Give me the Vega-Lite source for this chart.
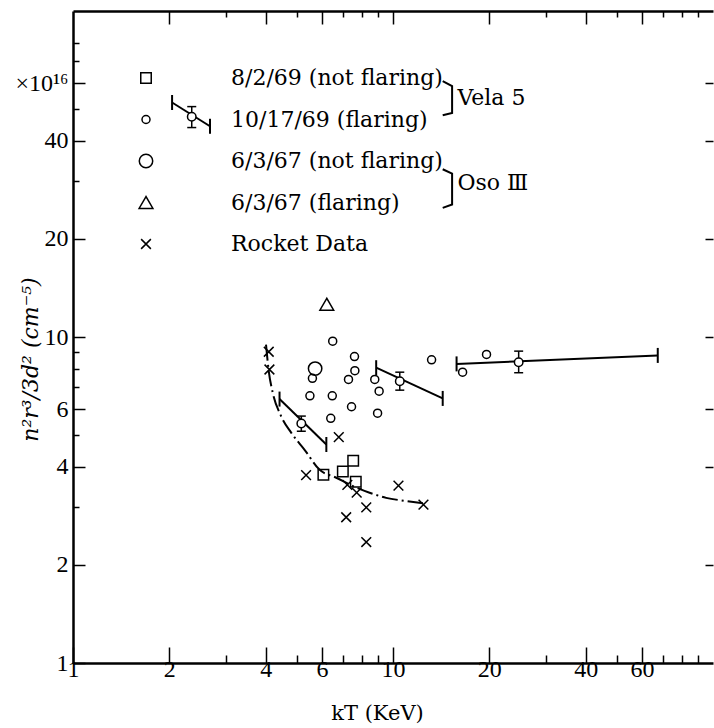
{
  "$schema": "https://vega.github.io/schema/vega-lite/v6.json",
  "width": 640,
  "height": 652,
  "autosize": {"type": "none"},
  "padding": {"left": 73, "top": 11, "right": 1, "bottom": 65},
  "background": "white",
  "config": {
    "view": {"stroke": null},
    "axis": {"grid": false, "domainColor": "black", "tickColor": "black", "labelColor": "black", "titleColor": "black", "labelFont": "Liberation Serif", "labelFontSize": 24, "titleFontWeight": "normal"}
  },
  "datasets": {
    "points": [
      {"series": "8/2/69 (not flaring)", "kT": 7.51, "v": 4.17},
      {"series": "8/2/69 (not flaring)", "kT": 6.06, "v": 3.78},
      {"series": "8/2/69 (not flaring)", "kT": 6.97, "v": 3.87},
      {"series": "8/2/69 (not flaring)", "kT": 7.65, "v": 3.6},
      {"series": "10/17/69 (flaring)", "kT": 6.48, "v": 9.71},
      {"series": "10/17/69 (flaring)", "kT": 7.58, "v": 8.71},
      {"series": "10/17/69 (flaring)", "kT": 7.6, "v": 7.88},
      {"series": "10/17/69 (flaring)", "kT": 7.26, "v": 7.41},
      {"series": "10/17/69 (flaring)", "kT": 5.6, "v": 7.47},
      {"series": "10/17/69 (flaring)", "kT": 8.77, "v": 7.41},
      {"series": "10/17/69 (flaring)", "kT": 9.05, "v": 6.82},
      {"series": "10/17/69 (flaring)", "kT": 5.5, "v": 6.6},
      {"series": "10/17/69 (flaring)", "kT": 6.46, "v": 6.6},
      {"series": "10/17/69 (flaring)", "kT": 7.42, "v": 6.11},
      {"series": "10/17/69 (flaring)", "kT": 6.39, "v": 5.63},
      {"series": "10/17/69 (flaring)", "kT": 8.95, "v": 5.84},
      {"series": "10/17/69 (flaring)", "kT": 13.2, "v": 8.51},
      {"series": "10/17/69 (flaring)", "kT": 16.5, "v": 7.8},
      {"series": "10/17/69 (flaring)", "kT": 19.6, "v": 8.84},
      {"series": "6/3/67 (not flaring)", "kT": 5.71, "v": 8.0},
      {"series": "6/3/67 (flaring)", "kT": 6.21, "v": 12.6},
      {"series": "Rocket Data", "kT": 5.35, "v": 3.77},
      {"series": "Rocket Data", "kT": 7.2, "v": 3.52},
      {"series": "Rocket Data", "kT": 7.7, "v": 3.33},
      {"series": "Rocket Data", "kT": 8.25, "v": 3.0},
      {"series": "Rocket Data", "kT": 10.4, "v": 3.5},
      {"series": "Rocket Data", "kT": 12.45, "v": 3.06},
      {"series": "Rocket Data", "kT": 7.14, "v": 2.8},
      {"series": "Rocket Data", "kT": 8.25, "v": 2.35},
      {"series": "Rocket Data", "kT": 6.77, "v": 4.93},
      {"series": "Rocket Data", "kT": 4.09, "v": 9.01},
      {"series": "Rocket Data", "kT": 4.11, "v": 7.95}
    ],
    "errs": [
      {"id": "A", "kT": 5.17, "v": 5.43, "lo": 5.14, "hi": 5.72},
      {"id": "B", "kT": 10.5, "v": 7.32, "lo": 6.87, "hi": 7.8},
      {"id": "C", "kT": 24.7, "v": 8.37, "lo": 7.77, "hi": 9.05},
      {"id": "key", "kT": 2.35, "v": 47.4, "lo": 43.9, "hi": 50.9}
    ],
    "fits": [
      {"id": "A", "kT": 4.42, "v": 6.45},
      {"id": "A", "kT": 6.19, "v": 4.68},
      {"id": "B", "kT": 8.86, "v": 8.05},
      {"id": "B", "kT": 14.3, "v": 6.48},
      {"id": "C", "kT": 15.8, "v": 8.27},
      {"id": "C", "kT": 67.2, "v": 8.78},
      {"id": "key", "kT": 2.04, "v": 52.4},
      {"id": "key", "kT": 2.68, "v": 44.3}
    ],
    "curve": [
      {"kT": 4.01, "v": 9.48},
      {"kT": 4.09, "v": 7.86},
      {"kT": 4.21, "v": 6.74},
      {"kT": 4.47, "v": 5.72},
      {"kT": 4.81, "v": 5.08},
      {"kT": 5.3, "v": 4.5},
      {"kT": 5.89, "v": 3.92},
      {"kT": 6.65, "v": 3.7},
      {"kT": 7.49, "v": 3.49},
      {"kT": 8.45, "v": 3.33},
      {"kT": 9.52, "v": 3.21},
      {"kT": 11.0, "v": 3.14},
      {"kT": 12.4, "v": 3.09}
    ],
    "brackets": [
      {"id": "vela", "o": 1, "kT": 14.3, "v": 60.9},
      {"id": "vela", "o": 2, "kT": 15.3, "v": 58.8},
      {"id": "vela", "o": 3, "kT": 15.3, "v": 48.7},
      {"id": "vela", "o": 4, "kT": 14.3, "v": 47.9},
      {"id": "oso", "o": 1, "kT": 14.3, "v": 32.7},
      {"id": "oso", "o": 2, "kT": 15.3, "v": 31.7},
      {"id": "oso", "o": 3, "kT": 15.3, "v": 25.5},
      {"id": "oso", "o": 4, "kT": 14.3, "v": 24.9}
    ],
    "notes": [
      {"text": "Vela 5", "kT": 15.9, "v": 54.2},
      {"text": "Oso Ⅲ", "kT": 15.9, "v": 29.7}
    ]
  },
  "layer": [
    {
      "data": {"name": "fits"},
      "mark": {"type": "line", "stroke": "black", "strokeWidth": 2},
      "encoding": {
        "x": {"field": "kT", "type": "quantitative", "scale": {"type": "log", "domain": [1, 100], "nice": false},
          "axis": {"orient": "bottom", "values": [1, 2, 4, 6, 10, 20, 40, 60], "format": "~g", "tickSize": -16, "tickWidth": 1.5, "domainWidth": 2.5, "labelPadding": 10, "labelFontSize": 24, "labelFont": "Liberation Serif", "labelFlush": false, "labelOverlap": false, "labelBaseline": "top", "title": "kT (KeV)", "titleFont": "DejaVu Serif", "titleFontSize": 21, "titleX": 304, "titleY": 50, "titleAlign": "center", "titleBaseline": "middle"}},
        "y": {"field": "v", "type": "quantitative", "scale": {"type": "log", "domain": [1, 100], "nice": false},
          "axis": {"orient": "left", "values": [1, 2, 4, 6, 10, 20, 40, 60], "format": "~g", "labelExpr": "datum.value == 60 ? '×10¹⁶' : datum.label", "tickSize": -12, "tickWidth": 1.5, "domainWidth": 2.5, "labelPadding": 17, "labelFontSize": 24, "labelFont": "Liberation Serif", "labelBaseline": "middle", "labelFlush": false, "labelOverlap": false, "title": "n²r³/3d²  (cm⁻⁵)", "titleFont": "DejaVu Serif", "titleFontStyle": "italic", "titleFontSize": 22, "titleAngle": 270, "titleX": -43, "titleY": 348, "titleAlign": "center", "titleBaseline": "middle"}},
        "detail": {"field": "id", "type": "nominal"},
        "order": {"field": "kT", "type": "quantitative"}
      }
    },
    {
      "data": {"name": "curve"},
      "mark": {"type": "line", "stroke": "black", "strokeWidth": 2, "strokeDash": [16, 4, 2, 4], "interpolate": "monotone"},
      "encoding": {
        "x": {"field": "kT", "type": "quantitative", "scale": {"type": "log", "domain": [1, 100], "nice": false},
          "axis": {"orient": "bottom", "values": [3, 5, 7, 8, 9, 30, 50, 70, 80, 90], "tickSize": -8, "tickWidth": 1.5, "domain": false, "labels": false, "title": null}},
        "y": {"field": "v", "type": "quantitative", "scale": {"type": "log", "domain": [1, 100], "nice": false},
          "axis": {"orient": "left", "values": [3, 5, 7, 8, 9, 30, 50, 70, 80], "tickSize": -6, "tickWidth": 1.5, "domain": false, "labels": false, "title": null}}
      }
    },
    {
      "data": {"name": "fits"},
      "mark": {"type": "tick", "orient": "vertical", "size": 15, "thickness": 2, "color": "black", "opacity": 1},
      "encoding": {
        "x": {"field": "kT", "type": "quantitative", "scale": {"type": "log", "domain": [1, 100], "nice": false},
          "axis": {"orient": "top", "values": [2, 4, 6, 10, 20, 40, 60], "tickSize": -13, "tickWidth": 1.5, "domainWidth": 2.5, "labels": false, "title": null}},
        "y": {"field": "v", "type": "quantitative", "scale": {"type": "log", "domain": [1, 100], "nice": false},
          "axis": {"orient": "right", "values": [2, 4, 6, 10, 20, 40, 60], "tickSize": -8, "tickWidth": 1.5, "domain": false, "labels": false, "title": null}}
      }
    },
    {
      "data": {"name": "errs"},
      "mark": {"type": "rule", "stroke": "black", "strokeWidth": 1.5},
      "encoding": {
        "x": {"field": "kT", "type": "quantitative", "scale": {"type": "log", "domain": [1, 100], "nice": false},
          "axis": {"orient": "top", "values": [3, 5, 7, 8, 9, 30, 50, 70, 80, 90], "tickSize": -6, "tickWidth": 1.5, "domain": false, "labels": false, "title": null}},
        "y": {"field": "lo", "type": "quantitative", "scale": {"type": "log", "domain": [1, 100], "nice": false}, "axis": null},
        "y2": {"field": "hi"}
      }
    },
    {
      "data": {"name": "errs"},
      "mark": {"type": "tick", "orient": "horizontal", "size": 9, "thickness": 1.5, "color": "black", "opacity": 1},
      "encoding": {
        "x": {"field": "kT", "type": "quantitative", "scale": {"type": "log", "domain": [1, 100], "nice": false}, "axis": null},
        "y": {"field": "lo", "type": "quantitative", "scale": {"type": "log", "domain": [1, 100], "nice": false}, "axis": null}
      }
    },
    {
      "data": {"name": "errs"},
      "mark": {"type": "tick", "orient": "horizontal", "size": 9, "thickness": 1.5, "color": "black", "opacity": 1},
      "encoding": {
        "x": {"field": "kT", "type": "quantitative", "scale": {"type": "log", "domain": [1, 100], "nice": false}, "axis": null},
        "y": {"field": "hi", "type": "quantitative", "scale": {"type": "log", "domain": [1, 100], "nice": false}, "axis": null}
      }
    },
    {
      "data": {"name": "errs"},
      "mark": {"type": "point", "shape": "circle", "size": 72, "filled": true, "fill": "white", "stroke": "black", "strokeWidth": 1.5, "opacity": 1},
      "encoding": {
        "x": {"field": "kT", "type": "quantitative", "scale": {"type": "log", "domain": [1, 100], "nice": false}, "axis": null},
        "y": {"field": "v", "type": "quantitative", "scale": {"type": "log", "domain": [1, 100], "nice": false}, "axis": null}
      }
    },
    {
      "data": {"name": "points"},
      "mark": {"type": "point", "filled": false, "color": "black", "stroke": "black", "strokeWidth": 1.5, "opacity": 1},
      "encoding": {
        "x": {"field": "kT", "type": "quantitative", "scale": {"type": "log", "domain": [1, 100], "nice": false}, "axis": null},
        "y": {"field": "v", "type": "quantitative", "scale": {"type": "log", "domain": [1, 100], "nice": false}, "axis": null},
        "shape": {"field": "series", "type": "nominal",
          "scale": {"type": "ordinal", "domain": ["8/2/69 (not flaring)", "10/17/69 (flaring)", "6/3/67 (not flaring)", "6/3/67 (flaring)", "Rocket Data"], "range": ["square", "circle", "circle", "triangle-up", "M-1,-1L1,1M1,-1L-1,1"]},
          "legend": {"orient": "none", "legendX": 62, "legendY": 56, "title": null, "labelFont": "DejaVu Serif", "labelFontSize": 22, "labelColor": "black", "rowPadding": 19.5, "labelOffset": 74, "symbolStrokeColor": "black", "symbolStrokeWidth": 1.5, "symbolFillColor": "transparent", "padding": 0, "labelLimit": 400}},
        "size": {"field": "series", "type": "nominal",
          "scale": {"type": "ordinal", "domain": ["8/2/69 (not flaring)", "10/17/69 (flaring)", "6/3/67 (not flaring)", "6/3/67 (flaring)", "Rocket Data"], "range": [110, 64, 180, 190, 95]}}
      }
    },
    {
      "data": {"name": "brackets"},
      "mark": {"type": "line", "stroke": "black", "strokeWidth": 2},
      "encoding": {
        "x": {"field": "kT", "type": "quantitative", "scale": {"type": "log", "domain": [1, 100], "nice": false}, "axis": null},
        "y": {"field": "v", "type": "quantitative", "scale": {"type": "log", "domain": [1, 100], "nice": false}, "axis": null},
        "detail": {"field": "id", "type": "nominal"},
        "order": {"field": "o", "type": "quantitative"}
      }
    },
    {
      "data": {"name": "notes"},
      "mark": {"type": "text", "align": "left", "baseline": "middle", "font": "DejaVu Serif", "fontSize": 22, "color": "black"},
      "encoding": {
        "x": {"field": "kT", "type": "quantitative", "scale": {"type": "log", "domain": [1, 100], "nice": false}, "axis": null},
        "y": {"field": "v", "type": "quantitative", "scale": {"type": "log", "domain": [1, 100], "nice": false}, "axis": null},
        "text": {"field": "text", "type": "nominal"}
      }
    }
  ],
  "resolve": {"axis": {"x": "independent", "y": "independent"}}
}
